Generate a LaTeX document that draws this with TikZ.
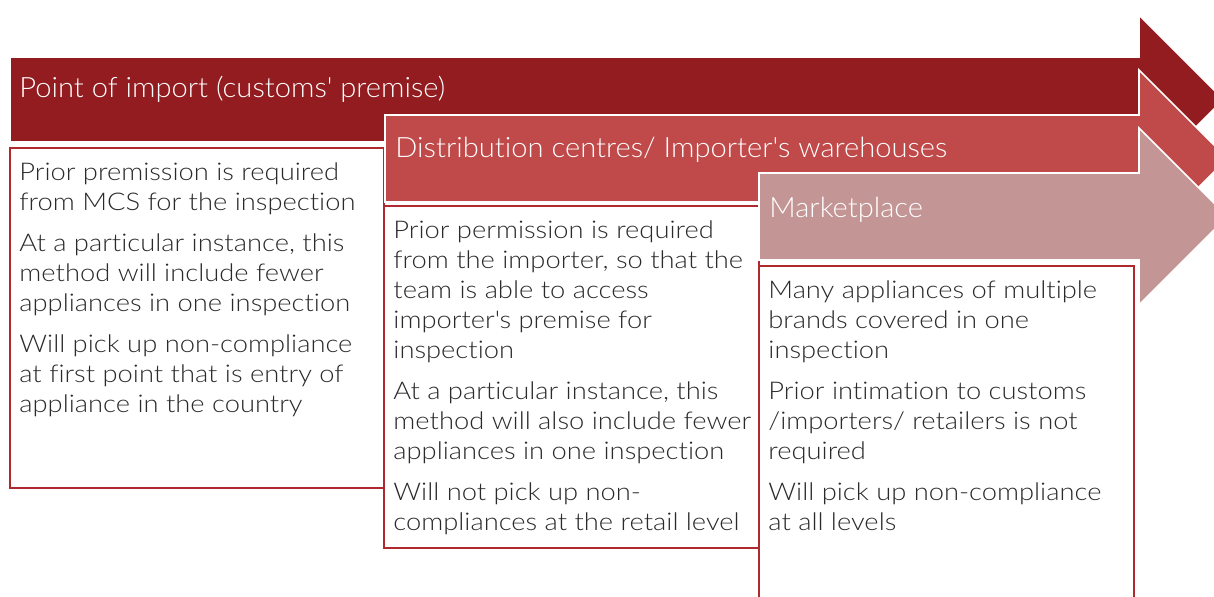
\documentclass[tikz,border=0pt]{standalone}
\usepackage{fontspec}
\IfFontExistsTF{Lato Light}{\def\basefam{Lato Light}}{\def\basefam{Lato}}
\newfontfamily\bodyfont[FakeStretch=1.12, Ligatures={NoCommon}]{\basefam}
\newfontfamily\headfont[FakeStretch=1.04, Ligatures={NoCommon}]{\basefam}
\setmainfont[Ligatures={NoCommon}]{\basefam}
\definecolor{arrowA}{HTML}{921C1F}
\definecolor{arrowB}{HTML}{C0494A}
\definecolor{arrowC}{HTML}{C49595}
\definecolor{boxline}{HTML}{AE2A2E}
\definecolor{bodytext}{HTML}{2A2A2A}
\tikzset{
  arrowshape/.style={draw=white, line width=0.8pt, line join=miter},
  infobox/.style={draw=boxline, fill=white, line width=1.1pt},
  headtext/.style={anchor=base west, inner sep=0pt, text=white,
    font=\headfont\fontsize{14}{16}\selectfont},
  bodytextnode/.style={anchor=north west, inner sep=0pt, align=left, text=bodytext,
    font=\bodyfont\fontsize{12.2}{15}\selectfont},
}
\begin{document}
\begin{tikzpicture}[x=0.5pt,y=-0.5pt]
\useasboundingbox (0,0) rectangle (1214,596);
\clip (0,0) rectangle (1214,596);
% arrow 1
\fill[arrowA] (10,57) -- (1139,57) -- (1139,15) -- (1223.5,99.5) -- (1139,184) -- (1139,142) -- (10,142) -- cycle;
\draw[arrowshape] (10,57) -- (1139,57) -- (1139,15) -- (1223.5,99.5) -- (1139,184) -- (1139,142) -- (10,142) -- cycle;
\node[headtext] (h1) at (19,97) {Point of import (customs\textquotesingle\ premise)};
% box 1
\draw[infobox] (10,148) rectangle (384,488);
\node[bodytextnode] (t1) at (19,159) {\strut Prior premission is required\\from MCS for the inspection\\[5.5pt]At a particular instance, this\\method will include fewer\\appliances in one inspection\\[5.5pt]Will pick up non-compliance\\at first point that is entry of\\appliance in the country};
% arrow 2
\fill[arrowB] (385,115) -- (1139,115) -- (1139,70) -- (1227.5,158.5) -- (1139,247) -- (1139,202) -- (385,202) -- cycle;
\draw[arrowshape] (385,115) -- (1139,115) -- (1139,70) -- (1227.5,158.5) -- (1139,247) -- (1139,202) -- (385,202) -- cycle;
\node[headtext] (h2) at (395,157) {Distribution centres/ Importer\textquotesingle s warehouses};
% box 2
\draw[infobox] (384,206) rectangle (759,548);
\node[bodytextnode] (t2) at (393,217) {\strut Prior permission is required\\from the importer, so that the\\team is able to access\\importer\textquotesingle s premise for\\inspection\\[5.5pt]At a particular instance, this\\method will also include fewer\\appliances in one inspection\\[5.5pt]Will not pick up non-\\compliances at the retail level};
% arrow 3
\fill[arrowC] (759,173) -- (1139,173) -- (1139,128) -- (1227.5,216.5) -- (1139,305) -- (1139,260) -- (759,260) -- cycle;
\draw[arrowshape] (759,173) -- (1139,173) -- (1139,128) -- (1227.5,216.5) -- (1139,305) -- (1139,260) -- (759,260) -- cycle;
\node[headtext] (h3) at (769,217) {Marketplace};
% box 3
\draw[infobox] (759,266) rectangle (1134,640);
\node[bodytextnode] (t3) at (768,277) {\strut Many appliances of multiple\\brands covered in one\\inspection\\[5.5pt]Prior intimation to customs\\/importers/ retailers is not\\required\\[5.5pt]Will pick up non-compliance\\at all levels};
\end{tikzpicture}
\end{document}
